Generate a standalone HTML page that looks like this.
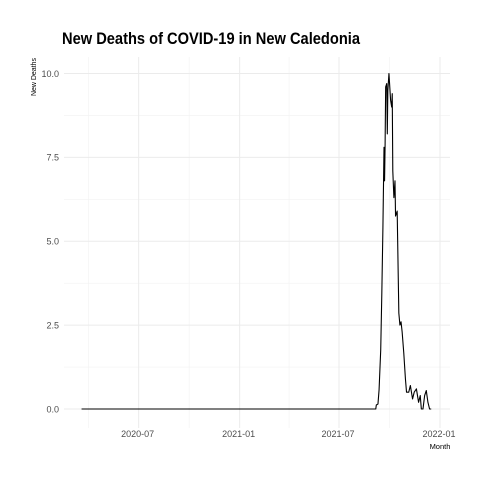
<!DOCTYPE html>
<html><head><meta charset="utf-8">
<style>
html,body{margin:0;padding:0;background:#fff;}
svg{display:block;font-family:"Liberation Sans",sans-serif;}
</style></head>
<body>
<svg id="chart" width="480" height="480" viewBox="0 0 480 480">
<rect width="480" height="480" fill="#fff"/>
<text x="62" y="44" font-size="17" font-weight="bold" fill="#000" textLength="298" lengthAdjust="spacingAndGlyphs">New Deaths of COVID-19 in New Caledonia</text>
<text transform="translate(36,96) rotate(-90)" font-size="7.5" fill="#000" textLength="38" lengthAdjust="spacingAndGlyphs">New Deaths</text>
<text x="440" y="449" font-size="7.5" text-anchor="middle" fill="#000">Month</text>
<g id="grid"></g>
<g id="ticks"></g>
<path id="line" fill="none" stroke="#000" stroke-width="1.1" stroke-linejoin="round"/>
</svg>
<script>
const dates = ["2020-03-19","2021-09-06","2021-09-07","2021-09-10","2021-09-12","2021-09-15","2021-09-17","2021-09-19","2021-09-21","2021-09-22","2021-09-23","2021-09-24","2021-09-26","2021-09-27","2021-09-28","2021-09-30","2021-10-03","2021-10-05","2021-10-06","2021-10-07","2021-10-09","2021-10-11","2021-10-12","2021-10-15","2021-10-18","2021-10-20","2021-10-22","2021-10-24","2021-10-27","2021-10-30","2021-11-01","2021-11-05","2021-11-08","2021-11-12","2021-11-15","2021-11-19","2021-11-23","2021-11-26","2021-11-28","2021-12-01","2021-12-04","2021-12-07","2021-12-10","2021-12-13","2021-12-16"];
const deaths = [0,0,0.12,0.15,0.57,1.76,3.45,5.4,7.8,6.8,7.9,9.6,9.7,8.2,9.5,10,9.2,9.0,9.4,7.1,6.3,6.8,5.75,5.9,2.86,2.5,2.6,2.3,1.67,0.9,0.5,0.5,0.7,0.3,0.5,0.6,0.2,0.4,0,0,0.4,0.55,0.2,0,0];
const yTicks = [0, 2.5, 5, 7.5, 10];
const yTickLabels = ["0.0","2.5","5.0","7.5","10.0"];
const xTicks = ["2020-07-01","2021-01-01","2021-07-01","2022-01-01"];
const xTickLabels = ["2020-07","2021-01","2021-07","2022-01"];
const xMinor = ["2020-04-01","2020-10-01","2021-04-01","2021-10-01"];

const DAY = 86400000;
const t0 = Date.parse("2021-07-01"), px0 = 339, pxPerDay = 101/184;
function xScale(d){ return px0 + (Date.parse(d) - t0)/DAY*pxPerDay; }
function yScale(v){ return 409 - v*33.55; }
const NS = "http://www.w3.org/2000/svg";
const grid = document.getElementById('grid'), ticks = document.getElementById('ticks');
const L = 64, R = 450, T = 57, B = 428;
function line(x1,y1,x2,y2,c,w,name){
  const l = document.createElementNS(NS,'line');
  l.setAttribute('x1',x1); l.setAttribute('y1',y1); l.setAttribute('x2',x2); l.setAttribute('y2',y2);
  l.setAttribute('stroke',c); l.setAttribute('stroke-width',w);
  
  
  grid.appendChild(l);
}
function text(x,y,s,anchor,name){
  const t = document.createElementNS(NS,'text');
  t.setAttribute('x',x); t.setAttribute('y',y); t.setAttribute('text-anchor',anchor);
  t.setAttribute('font-size','9'); t.setAttribute('fill','#4d4d4d');
  t.textContent = s;
  
  
  ticks.appendChild(t);
}
for (let i=0;i<yTicks.length-1;i++){
  const y = yScale((yTicks[i]+yTicks[i+1])/2);
  line(L,y,R,y,'#f2f2f2',0.6,'y-minor-gridline');
}
xMinor.forEach(d=>{ const x = xScale(d); line(x,T,x,B,'#f2f2f2',0.6,'x-minor-gridline'); });
yTicks.forEach((v,i)=>{
  const y = yScale(v);
  line(L,y,R,y,'#ebebeb',1,'y-gridline');
  text(59,y+3.3,yTickLabels[i],'end','y-tick-label');
});
xTicks.forEach((d,i)=>{
  const x = xScale(d);
  line(x,T,x,B,'#ebebeb',1,'x-gridline');
  text(x-1,437,xTickLabels[i],'middle','x-tick-label');
});
let p = '';
dates.forEach((d,i)=>{ p += (i?'L':'M') + xScale(d).toFixed(2) + ',' + yScale(deaths[i]).toFixed(2); });
document.getElementById('line').setAttribute('d', p);
</script>
</body></html>
